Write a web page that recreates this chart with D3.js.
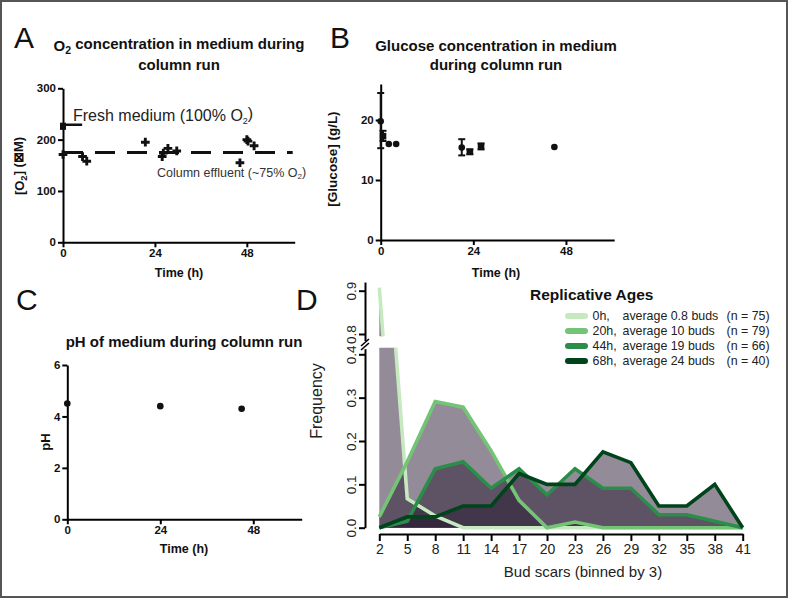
<!DOCTYPE html>
<html><head><meta charset="utf-8">
<script src="https://cdn.jsdelivr.net/npm/d3@7"></script>
<style>
body{margin:0;background:#fff}
svg text{font-family:"Liberation Sans",Arial,Helvetica,sans-serif}
</style>
</head><body>
<svg id="c" width="789" height="599"></svg>
<script>
// ---------------- DATA ----------------
const timeTicks = [0, 24, 48];

// Panel A : O2
const o2Ticks = [0, 100, 200, 300];
const o2Times  = [0, 5.1, 6.2, 21.5, 25.9, 26.2, 27.4, 29.7, 46.2, 48.0, 48.3, 49.9];
const o2Values = [171, 167, 158, 195, 167, 174, 183, 178, 155, 200, 197, 188];
const o2FreshTimes = [0];
const o2FreshMean  = [226];
const o2FreshLow   = [219];
const o2FreshHigh  = [233];
const o2FreshLevel = [229];      // short bar beside fresh medium
const o2FreshSpan  = [0, 5];     // hours
const o2EffluentLevel = [175];

// Panel B : glucose
const glucoseTicks = [0, 10, 20];
const glucoseCircleTimes  = [0, 2.1, 4.0, 21.0, 45.0];
const glucoseCircleValues = [19.8, 16.0, 16.0, 15.4, 15.5];
const glucoseCircleLow    = [15.3, 16.0, 16.0, 14.1, 15.5];
const glucoseCircleHigh   = [24.5, 16.0, 16.0, 16.8, 15.5];
const glucoseSquareTimes  = [0.6, 23.1, 26.0];
const glucoseSquareValues = [17.3, 14.7, 15.6];
const glucoseSquareLow    = [16.5, 14.3, 15.1];
const glucoseSquareHigh   = [18.2, 15.1, 16.1];

// Panel C : pH
const phTicks = [0, 2, 4, 6];
const phTimes  = [0, 24, 45];
const phValues = [4.5, 4.4, 4.3];

// Panel D : bud scars
const budBins  = [2, 5, 8, 11, 14, 17, 20, 23, 26, 29, 32, 35, 38, 41];
const freq0h   = [0.907, 0.067, 0.027, 0, 0, 0, 0, 0, 0, 0, 0, 0, 0, 0];
const freq20h  = [0.025, 0.152, 0.291, 0.278, 0.177, 0.063, 0, 0.013, 0, 0, 0, 0, 0, 0];
const freq44h  = [0, 0.015, 0.136, 0.152, 0.091, 0.136, 0.076, 0.136, 0.091, 0.091, 0.030, 0.030, 0.015, 0];
const freq68h  = [0, 0.025, 0.025, 0.05, 0.05, 0.125, 0.10, 0.10, 0.175, 0.15, 0.05, 0.05, 0.10, 0];
const freqLowTicks  = [0, 0.1, 0.2, 0.3, 0.4];
const freqHighTicks = [0.8, 0.9];
const ageNames  = ["0h,", "20h,", "44h,", "68h,"];
const ageAvg    = ["average 0.8 buds", "average 10 buds", "average 19 buds", "average 24 buds"];
const ageN      = ["(n = 75)", "(n = 79)", "(n = 66)", "(n = 40)"];
const ageColors = ["#c7e9c0", "#74c476", "#2b8d4a", "#00441b"];

// ---------------- DRAWING ----------------
const svg = d3.select("#c");
svg.append("rect").attr("x", 1).attr("y", 1).attr("width", 786).attr("height", 596)
  .attr("fill", "#fff").attr("stroke", "#555").attr("stroke-width", 2);

function panelLetter(t, x, y) {
  svg.append("text").attr("x", x).attr("y", y).attr("font-size", 30).attr("fill", "#111").text(t);
}
panelLetter("A", 14, 48);
panelLetter("B", 330, 48);
panelLetter("C", 16, 310);
panelLetter("D", 296, 310);

function styleAxis(g) {
  g.selectAll("path,line").attr("stroke", "#000").attr("stroke-width", 2);
  g.selectAll("text").attr("font-size", 11.5).attr("font-weight", "bold").attr("fill", "#111")
    .attr("font-family", '"Liberation Sans",Arial,sans-serif');
}
function gpAxes(x, y, yTicks) {
  const gx = svg.append("g").attr("transform", `translate(0,${y.range()[0]})`)
    .call(d3.axisBottom(x).tickValues(timeTicks).tickFormat(d3.format("d")).tickSize(5).tickSizeOuter(0).tickPadding(2));
  styleAxis(gx);
  const gy = svg.append("g").attr("transform", `translate(${x.range()[0]},0)`)
    .call(d3.axisLeft(y).tickValues(yTicks).tickFormat(d3.format("d")).tickSize(5).tickSizeOuter(0).tickPadding(2));
  styleAxis(gy);
}
function boldText(txt, x, y, size, rot) {
  const t = svg.append("text").attr("text-anchor", "middle").attr("font-weight", "bold")
    .attr("font-size", size).attr("fill", "#111");
  if (rot) t.attr("transform", `translate(${x},${y}) rotate(-90)`);
  else t.attr("x", x).attr("y", y);
  return t;
}
function addSub(t, main, sub, rest, subSize) {
  t.append("tspan").text(main);
  t.append("tspan").attr("dy", "0.3em").attr("font-size", subSize).text(sub);
  t.append("tspan").attr("dy", "-0.3em").text(rest);
}

// ===== Panel A =====
const xA = d3.scaleLinear().domain([0, 60.5]).range([63, 294.7]);
const yA = d3.scaleLinear().domain([0, 300]).range([242.3, 88.3]);
{
  const t1 = boldText("", 179, 50.5, 15);
  addSub(t1, "O", "2", " concentration in medium during", 10.5);
  boldText("", 179, 69.5, 15).text("column run");
  gpAxes(xA, yA, o2Ticks);
  boldText("", 179, 277, 12.5).text("Time (h)");
  const yl = boldText("", 24, 166, 13, true);
  addSub(yl, "[O", "2", "] (⊠M)", 9.5);

  // effluent dashed line
  svg.append("line").attr("x1", xA(0)).attr("x2", xA.range()[1] - 2)
    .attr("y1", yA(o2EffluentLevel[0])).attr("y2", yA(o2EffluentLevel[0]))
    .attr("stroke", "#111").attr("stroke-width", 3).attr("stroke-dasharray", "20,12");
  // fresh medium
  svg.append("line").attr("x1", xA(o2FreshSpan[0])).attr("x2", xA(o2FreshSpan[1]))
    .attr("y1", yA(o2FreshLevel[0])).attr("y2", yA(o2FreshLevel[0]))
    .attr("stroke", "#111").attr("stroke-width", 2.5);
  o2FreshTimes.forEach((t, i) => {
    svg.append("rect").attr("x", xA(t) - 3).attr("width", 6)
      .attr("y", yA(o2FreshHigh[i])).attr("height", yA(o2FreshLow[i]) - yA(o2FreshHigh[i]))
      .attr("fill", "#111");
  });
  svg.append("g").selectAll("path").data(o2Times).join("path")
    .attr("transform", (d, i) => `translate(${xA(d)},${yA(o2Values[i])})`)
    .attr("d", d3.symbol(d3.symbolCross, 42)).attr("fill", "#111");

  const fm = svg.append("text").attr("x", 73).attr("y", 121).attr("font-size", 16).attr("fill", "#222");
  addSub(fm, "Fresh medium (100% O", "2", ")", 9);
  const ce = svg.append("text").attr("x", 157).attr("y", 177).attr("font-size", 12.5).attr("fill", "#333");
  addSub(ce, "Column effluent (~75% O", "2", ")", 8);
}

// ===== Panel B =====
const xB = d3.scaleLinear().domain([0, 60.5]).range([380.7, 614.2]);
const yB = d3.scaleLinear().domain([0, 26]).range([240, 84]);
{
  boldText("", 496, 50.5, 15).text("Glucose concentration in medium");
  boldText("", 496, 69.5, 15).text("during column run");
  gpAxes(xB, yB, glucoseTicks);
  boldText("", 496, 277, 12.5).text("Time (h)");
  boldText("", 337, 159, 13.5, true).text("[Glucose] (g/L)");

  const eb = svg.append("g").attr("stroke", "#111").attr("stroke-width", 2);
  function errBar(t, lo, hi) {
    if (hi - lo < 0.01) return;
    eb.append("line").attr("x1", xB(t)).attr("x2", xB(t)).attr("y1", yB(lo)).attr("y2", yB(hi));
    eb.append("line").attr("x1", xB(t) - 3.5).attr("x2", xB(t) + 3.5).attr("y1", yB(lo)).attr("y2", yB(lo));
    eb.append("line").attr("x1", xB(t) - 3.5).attr("x2", xB(t) + 3.5).attr("y1", yB(hi)).attr("y2", yB(hi));
  }
  glucoseCircleTimes.forEach((t, i) => errBar(t, glucoseCircleLow[i], glucoseCircleHigh[i]));
  glucoseSquareTimes.forEach((t, i) => errBar(t, glucoseSquareLow[i], glucoseSquareHigh[i]));
  svg.append("g").selectAll("circle").data(glucoseCircleTimes).join("circle")
    .attr("cx", d => xB(d)).attr("cy", (d, i) => yB(glucoseCircleValues[i])).attr("r", 3.3).attr("fill", "#111");
  svg.append("g").selectAll("rect").data(glucoseSquareTimes).join("rect")
    .attr("x", d => xB(d) - 3.3).attr("y", (d, i) => yB(glucoseSquareValues[i]) - 3.3)
    .attr("width", 6.6).attr("height", 6.6).attr("fill", "#111");
}

// ===== Panel C =====
const xC = d3.scaleLinear().domain([0, 60.5]).range([67.3, 301.7]);
const yC = d3.scaleLinear().domain([0, 6]).range([519.3, 365]);
{
  boldText("", 184, 347, 15).text("pH of medium during column run");
  gpAxes(xC, yC, phTicks);
  boldText("", 184, 553, 12.5).text("Time (h)");
  boldText("", 45, 442, 13, true).attr("dy", "0.35em").text("pH");
  svg.append("g").selectAll("circle").data(phTimes).join("circle")
    .attr("cx", d => xC(d)).attr("cy", (d, i) => yC(phValues[i])).attr("r", 3.3).attr("fill", "#111");
}

// ===== Panel D =====
const xD = d3.scaleLinear().domain([2, 41]).range([379.3, 742.7]);
const yLow = d3.scaleLinear().domain([0, 0.4]).range([527.7, 354.3]);
const yHigh = d3.scaleLinear().domain([0.8, 0.9]).range([334, 290.7]);
{
  const defs = svg.append("defs");
  defs.append("clipPath").attr("id", "clipLow").append("rect")
    .attr("x", 360).attr("y", yLow(0.415)).attr("width", 400).attr("height", 200);
  defs.append("clipPath").attr("id", "clipHigh").append("rect")
    .attr("x", 360).attr("y", yHigh(0.92)).attr("width", 400).attr("height", yHigh(0.795) - yHigh(0.92));

  const series = [freq0h, freq20h, freq44h, freq68h];
  [[yLow, "clipLow"], [yHigh, "clipHigh"]].forEach(([ys, cid]) => {
    const g = svg.append("g").attr("clip-path", `url(#${cid})`);
    const area = d3.area().x((d, i) => xD(budBins[i])).y0(ys(0)).y1(d => ys(d));
    const line = d3.line().x((d, i) => xD(budBins[i])).y(d => ys(d));
    series.forEach(s => g.append("path").attr("d", area(s)).attr("fill", "rgba(40,25,50,0.5)"));
    series.forEach((s, k) => g.append("path").attr("d", line(s)).attr("fill", "none")
      .attr("stroke", ageColors[k]).attr("stroke-width", 3.6).attr("stroke-linejoin", "miter"));
  });

  function rAxis(g) {
    g.selectAll("path,line").attr("stroke", "#000").attr("stroke-width", 2);
    g.selectAll("text").attr("font-size", 13.5).attr("fill", "#222").attr("font-family", '"Liberation Sans",Arial,sans-serif');
  }
  const yLowAx = yLow.copy().domain([0, 0.413]).range([yLow(0), yLow(0.413)]);
  const yHighAx = yHigh.copy().domain([0.785, 0.92]).range([yHigh(0.785), yHigh(0.92)]);
  [[yLowAx, freqLowTicks], [yHighAx, freqHighTicks]].forEach(([ys, tv]) => {
    const g = svg.append("g").attr("transform", "translate(365,0)")
      .call(d3.axisLeft(ys).tickValues(tv).tickFormat(d3.format(".1f")).tickSize(6).tickSizeOuter(0));
    rAxis(g);
    g.selectAll(".tick text").attr("x", 0).attr("dy", 0).attr("text-anchor", "middle")
      .attr("transform", "translate(-14,0) rotate(-90)").attr("dy", "0.35em");
  });
  // axis break marks
  svg.append("g").attr("stroke", "#000").attr("stroke-width", 1.6)
    .selectAll("line").data([0, 4]).join("line")
    .attr("x1", 361).attr("x2", 369).attr("y1", d => 346 + d).attr("y2", d => 339 + d);

  const gx = svg.append("g").attr("transform", "translate(0,534)")
    .call(d3.axisBottom(xD).tickValues(budBins).tickSize(7).tickSizeOuter(0).tickPadding(3));
  rAxis(gx);
  gx.selectAll("text").attr("font-size", 14);

  svg.append("text").attr("x", 583).attr("y", 577).attr("text-anchor", "middle")
    .attr("font-size", 15).attr("fill", "#222").text("Bud scars (binned by 3)");
  svg.append("text").attr("transform", "translate(316,401) rotate(-90)").attr("text-anchor", "middle")
    .attr("dy", "0.35em").attr("font-size", 16).attr("fill", "#222").text("Frequency");

  // legend
  svg.append("text").attr("x", 530).attr("y", 300).attr("font-size", 15.5).attr("font-weight", "bold")
    .attr("fill", "#111").text("Replicative Ages");
  const lg = svg.append("g").selectAll("g").data(ageNames).join("g")
    .attr("transform", (d, i) => `translate(0,${316 + i * 15})`);
  lg.append("line").attr("x1", 568).attr("x2", 585).attr("stroke", (d, i) => ageColors[i])
    .attr("stroke-width", 6).attr("stroke-linecap", "round");
  lg.append("text").attr("x", 592.5).attr("dy", "0.36em").attr("font-size", 12.4).attr("fill", "#222").text(d => d);
  lg.append("text").attr("x", 622.5).attr("dy", "0.36em").attr("font-size", 12.4).attr("fill", "#222").text((d, i) => ageAvg[i]);
  lg.append("text").attr("x", 726.5).attr("dy", "0.36em").attr("font-size", 12.4).attr("fill", "#222").text((d, i) => ageN[i]);
}
</script>
</body></html>
